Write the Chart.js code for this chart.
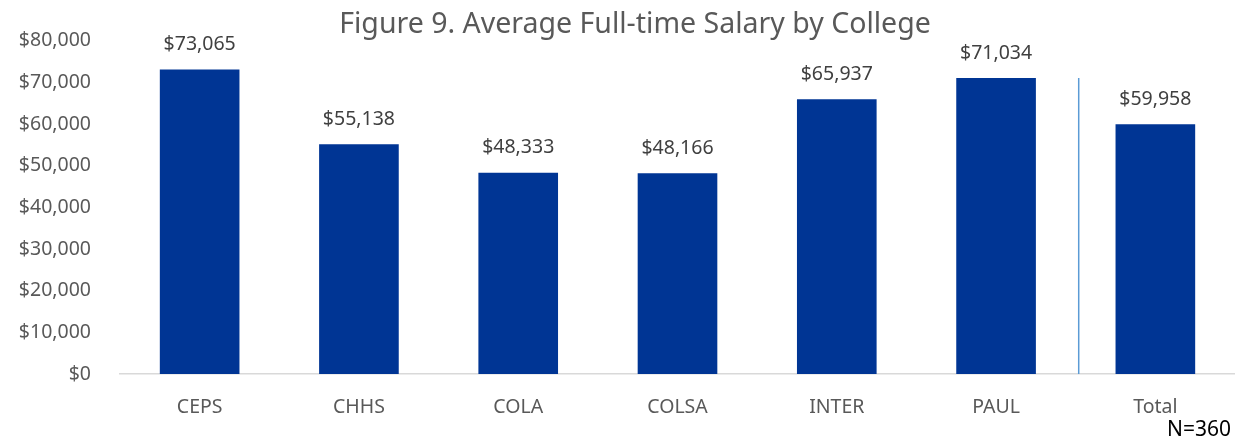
<!DOCTYPE html>
<html>
<head>
<meta charset="utf-8">
<script src="https://cdn.jsdelivr.net/npm/chart.js@4.4.0/dist/chart.umd.min.js"></script>
<style>
html,body{margin:0;padding:0;background:#fff;}
#wrap{width:1235px;height:442px;position:relative;}
</style>
</head>
<body>
<div id="wrap"><canvas id="c" width="1235" height="442"></canvas></div>
<script>
const categories = ["CEPS", "CHHS", "COLA", "COLSA", "INTER", "PAUL", "Total"];
const salaries = [73065, 55138, 48333, 48166, 65937, 71034, 59958];
const yTicks = [0, 10000, 20000, 30000, 40000, 50000, 60000, 70000, 80000];
const titleText = "Figure 9. Average Full-time Salary by College";
const noteText = "N=360";

const FONT = "'Noto Sans', sans-serif";
const fmt = v => "$" + v.toLocaleString("en-US");

const overlay = {
  id: "overlay",
  afterDatasetsDraw(chart) {
    const ctx = chart.ctx;
    const x = chart.scales.x, y = chart.scales.y;
    const meta = chart.getDatasetMeta(0);
    ctx.save();
    // data labels
    ctx.font = "19.5px " + FONT;
    ctx.fillStyle = "#404040";
    ctx.textAlign = "center";
    ctx.textBaseline = "middle";
    meta.data.forEach((bar, i) => {
      ctx.fillText(fmt(salaries[i]), bar.x, bar.y - 25);
    });
    // separator line between PAUL and Total
    const sx = (x.getPixelForValue(5) + x.getPixelForValue(6)) / 2 + 3;
    ctx.strokeStyle = "#5B9BD5";
    ctx.lineWidth = 1.5;
    ctx.beginPath();
    ctx.moveTo(sx, y.getPixelForValue(0));
    ctx.lineTo(sx, y.getPixelForValue(salaries[5]));
    ctx.stroke();
    // title
    ctx.font = "28.5px " + FONT;
    ctx.fillStyle = "#595959";
    ctx.fillText(titleText, 635, 25);
    // note
    ctx.font = "21px " + FONT;
    ctx.fillStyle = "#000000";
    ctx.textAlign = "right";
    ctx.fillText(noteText, 1231, 430);
    ctx.restore();
  }
};

new Chart(document.getElementById("c"), {
  type: "bar",
  data: {
    labels: categories,
    datasets: [{
      data: salaries,
      backgroundColor: "#003594",
      borderWidth: 0,
      barPercentage: 0.5,
      categoryPercentage: 1.0
    }]
  },
  options: {
    responsive: false,
    animation: false,
    layout: { padding: { top: 38, right: 0, bottom: 0, left: 0 } },
    plugins: { legend: { display: false }, tooltip: { enabled: false }, title: { display: false } },
    scales: {
      x: {
        grid: { display: false, drawTicks: false },
        border: { display: true, color: "#d9d9d9", width: 1.5 },
        ticks: { color: "#595959", font: { family: FONT, size: 19.5 }, padding: 22 },
        afterFit(s) { s.height = 68; }
      },
      y: {
        min: 0, max: 80000,
        afterBuildTicks(s) { s.ticks = yTicks.map(v => ({ value: v })); },
        grid: { display: false, drawTicks: false },
        border: { display: false },
        ticks: { color: "#595959", font: { family: FONT, size: 19.5 }, padding: 29, callback: v => fmt(v) },
        afterFit(s) { s.width = 120; }
      }
    }
  },
  plugins: [overlay]
});
</script>
</body>
</html>
